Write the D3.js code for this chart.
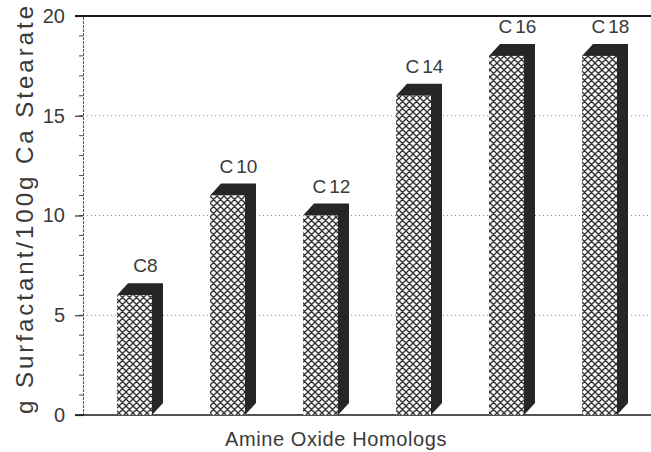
<!DOCTYPE html>
<html>
<head>
<meta charset="utf-8">
<script src="https://cdn.jsdelivr.net/npm/d3@7"></script>
<style>
  html, body { margin: 0; padding: 0; background: #fff; }
  svg { display: block; }
  text { font-family: "Liberation Sans", "DejaVu Sans", sans-serif; fill: #3a3a3a; }
</style>
</head>
<body>
<svg id="chart" width="651" height="452"></svg>
<script>
// Solubility of calcium stearate by amine oxide chain length
const categories = ["C8", "C10", "C12", "C14", "C16", "C18"];
const values = [6, 11, 10, 16, 18, 18];
const yTicks = [0, 5, 10, 15, 20];
const gridTicks = [5, 10, 15];
const minorTicks = d3.range(0, 21, 1);

const svg = d3.select("#chart");
const W = 651, H = 452;
const axisX = 83, yTop = 16, yBase = 415;
const depthX = 11, depthY = 12;
const fontStack = "Liberation Sans, DejaVu Sans, sans-serif";

const x = d3.scaleBand()
  .domain(categories)
  .range([70.5, 663.5])
  .paddingInner(0.6237)
  .paddingOuter(0.5);

const y = d3.scaleLinear().domain([0, 20]).range([yBase, yTop]);

// Crosshatch fill for the bar fronts
const defs = svg.append("defs");
const pat = defs.append("pattern")
  .attr("id", "hatch")
  .attr("patternUnits", "userSpaceOnUse")
  .attr("width", 7).attr("height", 7);
pat.append("rect").attr("width", 7).attr("height", 7).attr("fill", "#f7f7f7");
pat.append("path")
  .attr("d", "M0,0 L7,7 M7,0 L0,7 M-1,6 L1,8 M6,-1 L8,1 M-1,1 L1,-1 M6,8 L8,6")
  .attr("stroke", "#303030").attr("stroke-width", 1.3).attr("fill", "none");

// Dotted gridlines
svg.append("g").selectAll("line").data(gridTicks).join("line")
  .attr("x1", axisX).attr("x2", W)
  .attr("y1", d => y(d)).attr("y2", d => y(d))
  .attr("stroke", "#888").attr("stroke-width", 1)
  .attr("stroke-dasharray", "1,3");

// Left axis with minor and major ticks
const yAxis = d3.axisLeft(y).tickValues(yTicks).tickSize(8).tickPadding(10)
  .tickFormat(d3.format("d"));
const gy = svg.append("g").attr("transform", `translate(${axisX},0)`).call(yAxis);
gy.select(".domain").attr("stroke", "#555").attr("stroke-dasharray", "3,1");
gy.selectAll(".tick line").attr("stroke", "#333").attr("stroke-width", 1.2);
gy.selectAll(".tick text")
  .style("font-family", fontStack)
  .style("font-size", "20px").attr("fill", "#3a3a3a");
svg.append("g").selectAll("line").data(minorTicks).join("line")
  .attr("x1", axisX - 4).attr("x2", axisX)
  .attr("y1", d => y(d)).attr("y2", d => y(d))
  .attr("stroke", "#444").attr("stroke-width", 1);

// Top frame line and baseline
svg.append("line").attr("x1", 75).attr("x2", W).attr("y1", y(20)).attr("y2", y(20))
  .attr("stroke", "#1a1a1a").attr("stroke-width", 2);
svg.append("line").attr("x1", 75).attr("x2", W).attr("y1", y(0)).attr("y2", y(0))
  .attr("stroke", "#1a1a1a").attr("stroke-width", 1.6);

// 3-D bars: dark top/side, hatched front
const bars = svg.append("g").selectAll("g").data(categories.map((c, i) => ({c, v: values[i]})))
  .join("g");
bars.append("path")
  .attr("d", d => {
    const x0 = x(d.c), w = x.bandwidth(), yt = y(d.v), yb = y(0);
    return `M${x0},${yt} L${x0 + depthX},${yt - depthY} L${x0 + w + depthX},${yt - depthY} ` +
           `L${x0 + w + depthX},${yb - depthY} L${x0 + w},${yb} L${x0 + w},${yt} Z`;
  })
  .attr("fill", "#262626");
bars.append("rect")
  .attr("x", d => x(d.c)).attr("y", d => y(d.v))
  .attr("width", x.bandwidth()).attr("height", d => y(0) - y(d.v))
  .attr("fill", "url(#hatch)");
const lbl = bars.append("text")
  .attr("x", d => x(d.c) + x.bandwidth() / 2 + depthX)
  .attr("y", d => y(d.v) - depthY - 11)
  .attr("text-anchor", "middle")
  .style("font-size", "19px");
lbl.append("tspan").text(d => d.c.slice(0, 1));
lbl.append("tspan").attr("dx", d => d.c.length > 2 ? 3 : 0).text(d => d.c.slice(1));

// Axis titles
svg.append("text")
  .attr("transform", `translate(33,210) rotate(-90)`)
  .attr("text-anchor", "middle")
  .attr("textLength", 408).attr("lengthAdjust", "spacing")
  .style("font-size", "24px")
  .text("g Surfactant/100g Ca Stearate");
svg.append("text")
  .attr("x", 336).attr("y", 446)
  .attr("text-anchor", "middle")
  .style("font-size", "20px").style("letter-spacing", "0.6px")
  .text("Amine Oxide Homologs");
</script>
</body>
</html>
